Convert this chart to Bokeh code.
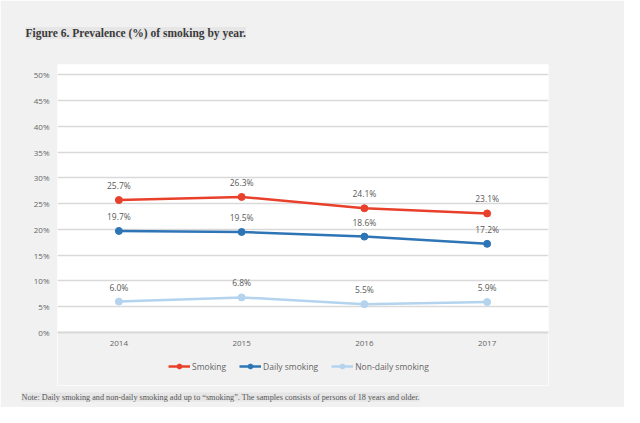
from bokeh.plotting import figure
from bokeh.models import (ColumnDataSource, LabelSet, Title, Legend, LegendItem, FactorRange,
                          Range1d, NumeralTickFormatter, BoxAnnotation)
from bokeh.core.properties import value
from bokeh.embed import file_html
from bokeh.resources import INLINE

years = ["2014", "2015", "2016", "2017"]
smoking = [25.7, 26.3, 24.1, 23.1]
daily = [19.7, 19.5, 18.6, 17.2]
nondaily = [6.0, 6.8, 5.5, 5.9]
series_names = ["Smoking", "Daily smoking", "Non-daily smoking"]
y_ticks = [0, 5, 10, 15, 20, 25, 30, 35, 40, 45, 50]
title_text = "Figure 6. Prevalence (%) of smoking by year."
note_text = "Note: Daily smoking and non-daily smoking add up to \u201csmoking\u201d. The samples consists of persons of 18 years and older."

colors = ["#e8402a", "#2e75b6", "#b3d3ee"]
FONT = "Open Sans"
SERIF = "Liberation Serif"
BG = "#f1f1f1"

p = figure(width=624, height=407, output_backend="svg", toolbar_location=None,
           x_range=FactorRange(factors=years), y_range=Range1d(-10.29, 52),
           min_border_left=57, min_border_right=76, min_border_top=64, min_border_bottom=22)
p.border_fill_color = BG
p.background_fill_color = "#ffffff"
p.outline_line_color = None

# grey area below the plot box (legend zone inside the frame)
p.add_layout(BoxAnnotation(top=0, fill_color=BG, fill_alpha=1, line_color=None, level="underlay"))

p.xgrid.grid_line_color = None
p.ygrid.grid_line_color = "#d9d9d9"
p.ygrid.grid_line_width = 1.5
p.yaxis.ticker = y_ticks
p.yaxis.formatter = NumeralTickFormatter(format="0")
p.yaxis.major_label_overrides = {t: f"{t}%" for t in y_ticks}
p.yaxis.axis_line_color = None
p.yaxis.major_tick_line_color = None
p.yaxis.minor_tick_line_color = None
p.xaxis.fixed_location = 0
p.xaxis.axis_line_color = "#d9d9d9"
p.xaxis.axis_line_width = 2
p.xaxis.major_tick_line_color = None
p.xaxis.minor_tick_line_color = None
for ax in (p.xaxis, p.yaxis):
    ax.major_label_text_font = FONT
    ax.major_label_text_font_size = "8px"
    ax.major_label_text_color = "#666666"
p.yaxis.major_label_standoff = 2
p.xaxis.major_label_standoff = 3

items = []
for name, vals, col in zip(series_names, [smoking, daily, nondaily], colors):
    src = ColumnDataSource(dict(x=years, y=vals, lab=[f"{v:.1f}%" for v in vals]))
    l = p.line("x", "y", source=src, line_color=col, line_width=2.5)
    s = p.scatter("x", "y", source=src, size=7, fill_color=col, line_color=col)
    items.append(LegendItem(label=name, renderers=[l, s]))
    p.add_layout(LabelSet(x="x", y="y", text="lab", source=src, y_offset=9,
                          text_align="center", text_baseline="bottom",
                          text_font=value(FONT), text_font_size=value("8.5px"),
                          text_color=value("#595959")))

p.title = Title(text=title_text, align="left", offset=-32, standoff=47, vertical_align="top",
                text_font=SERIF, text_font_style="bold", text_font_size="11.5px",
                text_color="#3a3a3a", background_fill_color="#e6e6e6")

legend = Legend(items=items, orientation="horizontal", location=(111, 13),
                glyph_width=22, glyph_height=12, label_height=12, label_standoff=2,
                spacing=13, padding=0, margin=0,
                label_text_font=FONT, label_text_font_size="8.5px", label_text_color="#666666",
                background_fill_alpha=0, border_line_color=None)
p.add_layout(legend, "center")

p.add_layout(Title(text=note_text, align="left", offset=-36, standoff=10,
                   text_font=SERIF, text_font_size="8.2px", text_font_style="normal",
                   text_color="#555555", background_fill_color="#e6e6e6"), "below")

open("out.html", "w").write(file_html(p, INLINE))
